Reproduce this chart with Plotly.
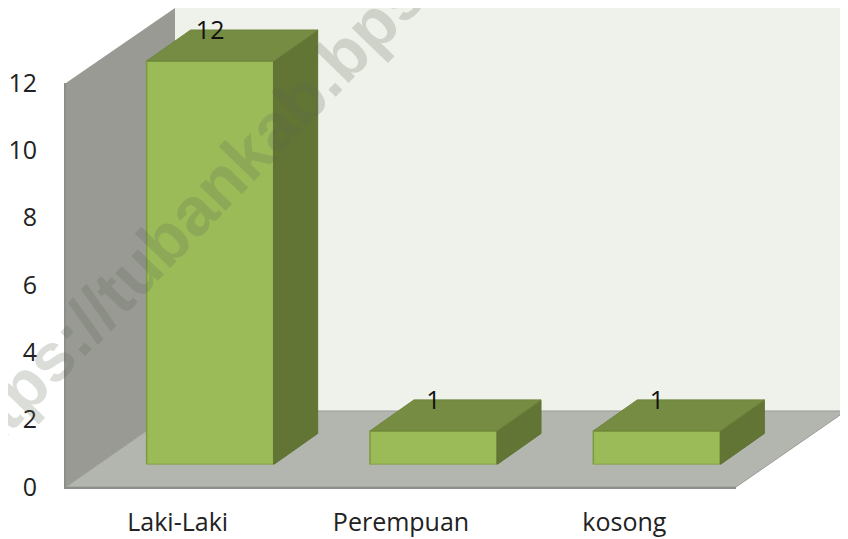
import plotly.graph_objects as go

categories = ["Laki-Laki", "Perempuan", "kosong"]
values = [12, 1, 1]
y_ticks = [0, 2, 4, 6, 8, 10, 12]
watermark = "https://tubankab.bps.go.id"

# the page body has an 8 px margin, so the figure starts at window pixel (8, 8)
PAGE = 8
W, H = 848 - PAGE, 539 - PAGE
FONT = "Open Sans"
# window-pixel layout of the pseudo-3D box
AX_L, AX_R, AX_B, AX_T = 66, 736, 487, 83      # front plane (axis plane)
BK_X, BK_TOP, BK_BOT = 175, 8, 411             # back wall corner
BAR_L, BAR_R, BAR_B, BAR_T = 98.5, 768.5, 464.5, 61  # bar front plane
DEPTH_X, DEPTH_Y = 44, 31                      # bar depth in pixels
BAR_W = 127 / 223.3

px = lambda v: (v - PAGE) / W
py = lambda v: 1 - (v - PAGE) / H
unit_x = (BAR_R - BAR_L) / 3
unit_y = (BAR_B - BAR_T) / 12
dx = DEPTH_X / unit_x
dy = DEPTH_Y / unit_y
Y2_MAX = 13  # headroom so the top face and label of the tallest bar stay in range
idx = list(range(len(categories)))


def path(points):
    return "M " + " L ".join(f"{px(a):.4f},{py(b):.4f}" for a, b in points) + " Z"


fig = go.Figure()

# invisible anchor so that the visible axes are drawn
fig.add_trace(go.Scatter(x=idx, y=values, mode="markers", marker=dict(opacity=0),
                         hoverinfo="skip", showlegend=False, xaxis="x", yaxis="y"))

# side and top faces, derived from values
EDGE = "#7c9a3e"
for i, v in zip(idx, values):
    l, r = i - BAR_W / 2, i + BAR_W / 2
    fig.add_trace(go.Scatter(
        x=[r, r + dx, r + dx, r, r], y=[0, dy, v + dy, v, 0], mode="lines", fill="toself",
        fillcolor="#637534", line=dict(color="#5f7232", width=1), cliponaxis=False,
        hoverinfo="skip", showlegend=False, xaxis="x2", yaxis="y2"))
    fig.add_trace(go.Scatter(
        x=[l, l + dx, r + dx, r, l], y=[v, v + dy, v + dy, v, v], mode="lines", fill="toself",
        fillcolor="#758C42", line=dict(color="#6e853c", width=1), cliponaxis=False,
        hoverinfo="skip", showlegend=False, xaxis="x2", yaxis="y2"))

# front faces
fig.add_trace(go.Bar(x=idx, y=values, width=BAR_W, marker=dict(color="#9BBB59", line=dict(color=EDGE, width=1.5)),
                     hoverinfo="skip", showlegend=False, xaxis="x2", yaxis="y2"))

# data labels
fig.add_trace(go.Scatter(
    x=idx, y=[v + 28 / unit_y for v in values], mode="text", text=[str(v) for v in values],
    textposition="middle center", textfont=dict(family=FONT, size=25, color="#111111"), cliponaxis=False,
    hoverinfo="skip", showlegend=False, xaxis="x2", yaxis="y2"))

shapes = [
    dict(type="path", xref="paper", yref="paper", layer="below", line=dict(width=0), fillcolor="#EFF1EB",
         path=path([(BK_X, BK_TOP), (848, BK_TOP), (848, BK_BOT), (BK_X, BK_BOT)])),
    dict(type="path", xref="paper", yref="paper", layer="below", line=dict(width=0), fillcolor="#989A93",
         path=path([(AX_L, AX_T), (BK_X, BK_TOP), (BK_X, BK_BOT), (AX_L, AX_B)])),
    dict(type="path", xref="paper", yref="paper", layer="below",
         line=dict(width=1, color="#9a9c97"), fillcolor="#B3B5AF",
         path=path([(AX_L, AX_B), (BK_X, BK_BOT), (846, BK_BOT), (AX_R, AX_B)])),
]

annotations = [dict(
    text=watermark, xref="paper", yref="paper", x=px(243), y=py(158), xanchor="center", yanchor="middle",
    textangle=-46, showarrow=False,
    font=dict(family="Liberation Sans", size=68, color="rgba(90,100,80,0.22)", weight="bold"),
)]

fig.update_layout(
    template="none",
    width=W, height=H, margin=dict(l=0, r=0, t=0, b=0, autoexpand=False), paper_bgcolor="white", plot_bgcolor="rgba(0,0,0,0)",
    showlegend=False, shapes=shapes, annotations=annotations,
    xaxis=dict(domain=[px(AX_L), px(AX_R)], range=[-0.5, 2.5], tickmode="array", tickvals=idx, ticktext=categories,
               showgrid=False, zeroline=False, showline=True, linecolor="#8c8e89", linewidth=2, automargin=False,
               ticks="outside", ticklen=12, tickcolor="rgba(0,0,0,0)",
               tickfont=dict(family=FONT, size=25, color="#222222"), anchor="y"),
    yaxis=dict(domain=[py(AX_B), py(AX_T)], range=[0, 12], tickmode="array", tickvals=y_ticks,
               showgrid=False, zeroline=False, showline=True, linecolor="#8c8e89", linewidth=2, automargin=False,
               ticks="outside", ticklen=22, tickcolor="rgba(0,0,0,0)",
               tickfont=dict(family=FONT, size=25, color="#222222"), anchor="x"),
    xaxis2=dict(domain=[px(BAR_L), min(px(BAR_R), 1)], range=[-0.5, 2.5], visible=False, anchor="y2", automargin=False),
    yaxis2=dict(domain=[py(BAR_B), py(BAR_B - Y2_MAX * unit_y)], range=[0, Y2_MAX], visible=False, anchor="x2", automargin=False),
    barmode="overlay",
)

fig.write_html("out.html")
